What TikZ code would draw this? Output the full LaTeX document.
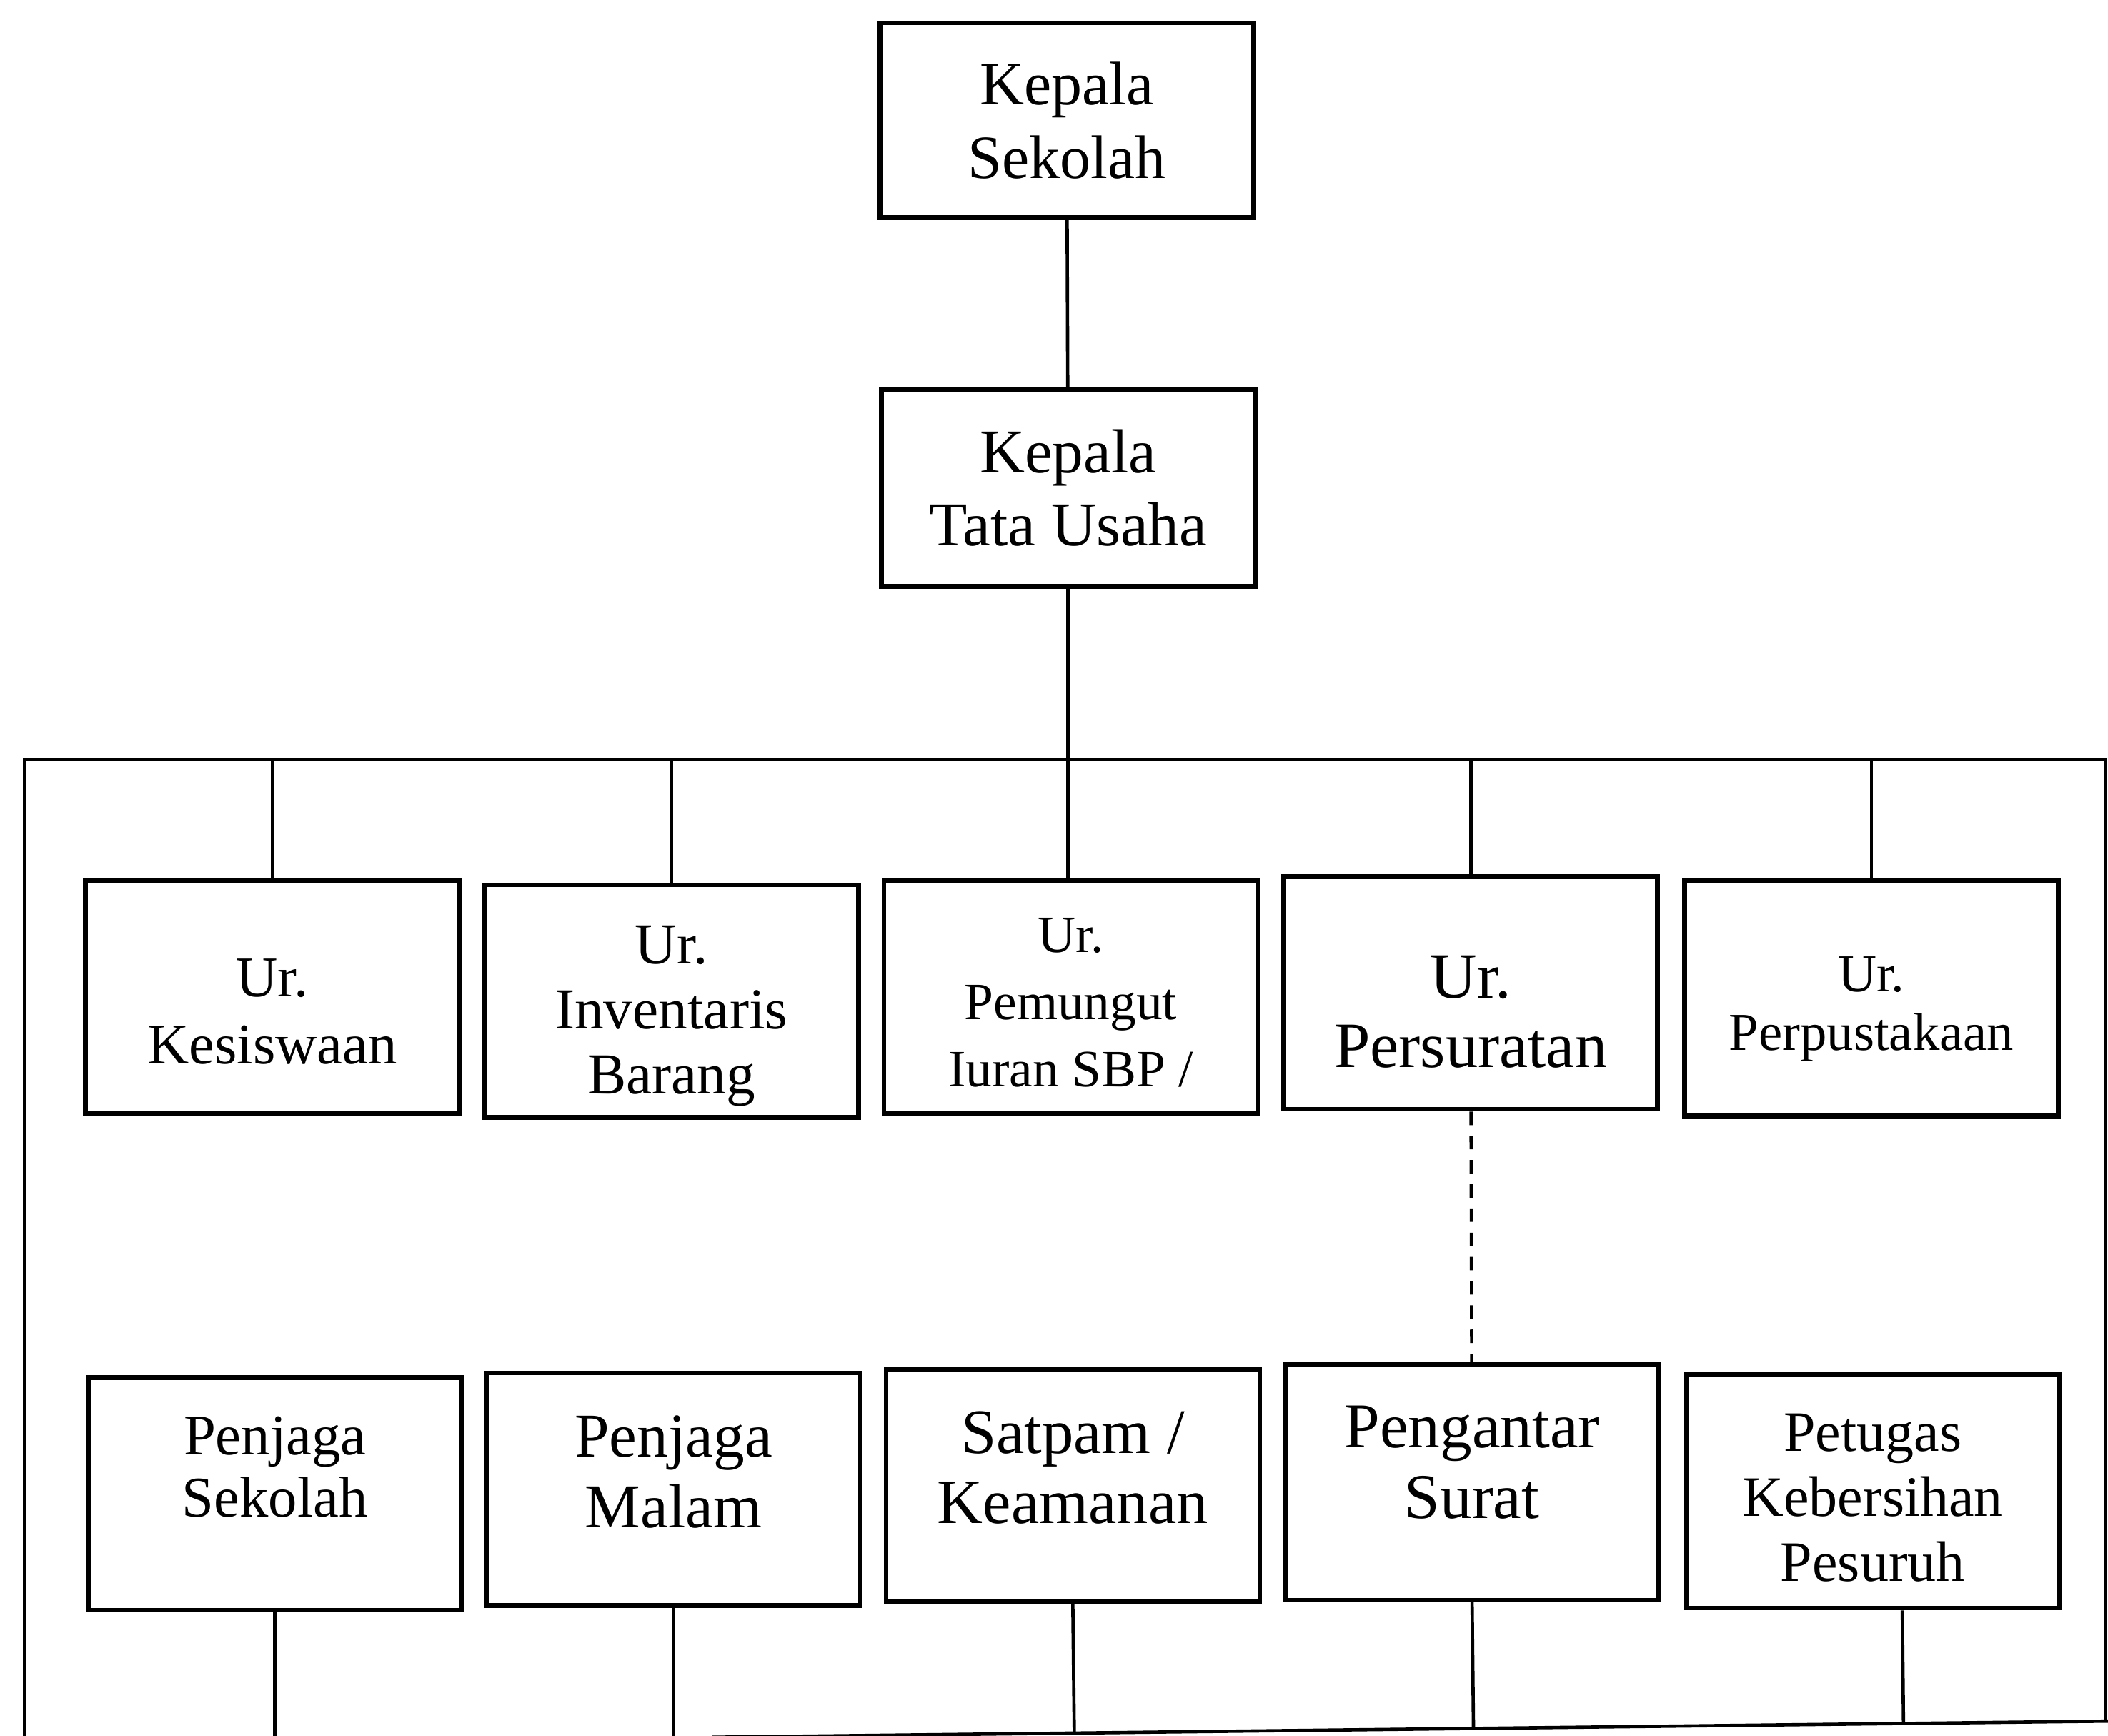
\documentclass[tikz,border=0pt]{standalone}
\usepackage{fontspec}
\setmainfont{Liberation Serif}
\usetikzlibrary{calc}
\begin{document}
\begin{tikzpicture}[x=0.1mm, y=-0.1mm,
  box/.style={draw, line width=1pt, inner sep=0pt, minimum width=27.8mm, minimum height=17.3mm},
  caption/.style={align=center, inner sep=0pt},
  link/.style={line width=0.7pt}]
\useasboundingbox (0,0) rectangle (1568,1291);
\node[box, align=center, minimum height=14.5mm, font=\fontsize{13}{15.6}\selectfont] (kepsek) at (793.5,89.5) {Kepala\\Sekolah};
\node[box, align=center, minimum height=14.6mm, font=\fontsize{13.2}{15.4}\selectfont] (ktu) at (794.5,363) {Kepala\\Tata Usaha};

\node[box] (kesiswaan) at (202.5,741.5) {};
\node[box] (inventaris) at (499.5,744.5) {};
\node[box] (iuran) at (796.5,741.5) {};
\node[box] (persuratan) at (1094,738.5) {};
\node[box, minimum height=17.5mm] (perpus) at (1392,742.5) {};
\node[caption, font=\fontsize{12.2}{14.2}\selectfont] (kesiswaan-t) at (202.5,752.5) {Ur.\\Kesiswaan};
\node[caption, font=\fontsize{12.3}{13.8}\selectfont] (inventaris-t) at (499.5,755.5) {Ur.\\Inventaris\\Barang};
\node[caption, font=\fontsize{11.1}{14.2}\selectfont] (iuran-t) at (796.5,745.5) {Ur.\\Pemungut\\Iuran SBP /};
\node[caption, font=\fontsize{13.7}{14.7}\selectfont] (persuratan-t) at (1094,752.5) {Ur.\\Persuratan};
\node[caption, font=\fontsize{11.3}{12.3}\selectfont] (perpus-t) at (1392,750.5) {Ur.\\Perpustakaan};

\node[box] (pjsekolah) at (204.5,1111) {};
\node[box] (pjmalam) at (501,1107.5) {};
\node[box] (satpam) at (798,1104.5) {};
\node[box, minimum height=17.5mm] (pengantar) at (1095,1102.5) {};
\node[box, minimum height=17.4mm] (petugas) at (1393,1109) {};
\node[caption, font=\fontsize{12.2}{13.2}\selectfont] (pjsekolah-t) at (204.5,1091) {Penjaga\\Sekolah};
\node[caption, font=\fontsize{13.2}{15}\selectfont] (pjmalam-t) at (501,1094.5) {Penjaga\\Malam};
\node[caption, font=\fontsize{13.4}{14.8}\selectfont] (satpam-t) at (798,1091.5) {Satpam /\\Keamanan};
\node[caption, font=\fontsize{13.5}{15}\selectfont] (pengantar-t) at (1095,1087.5) {Pengantar\\Surat};
\node[caption, font=\fontsize{12.1}{13.8}\selectfont] (petugas-t) at (1393,1114) {Petugas\\Kebersihan\\Pesuruh};

% frame round the staff
\coordinate (tl) at (18,565);
\coordinate (tr) at (1566,565);
\coordinate (bl) at (530,1292);
\coordinate (br) at (1568,1280);
\draw[link] (18,1291) -- (tl) -- (tr) -- (1566,1281);
\draw[link] (bl) -- (br);

\draw[link] (kepsek) -- (ktu);
\draw[link] (ktu.south) -- (ktu.south |- iuran.north);
\draw[link] (kesiswaan.north) -- (kesiswaan.north |- tl);
\draw[link] (inventaris.north) -- (inventaris.north |- tl);
\draw[link] (persuratan.north) -- (persuratan.north |- tl);
\draw[link] (perpus.north) -- (perpus.north |- tl);
\draw[link, dash pattern=on 1mm off 0.8mm] (persuratan) -- (pengantar);

\draw[link] (pjsekolah.south) -- (pjsekolah.south |- 0,1291);
\draw[link] (pjmalam.south) -- (pjmalam.south |- 0,1291);
\draw[link] (satpam.south) -- ($(bl)!(satpam.south)!(br)$);
\draw[link] (pengantar.south) -- ($(bl)!(pengantar.south)!(br)$);
\coordinate (petugasdrop) at ($(petugas.south)+(22,0)$);
\draw[link] (petugasdrop) -- ($(bl)!(petugasdrop)!(br)$);
\end{tikzpicture}
\end{document}
